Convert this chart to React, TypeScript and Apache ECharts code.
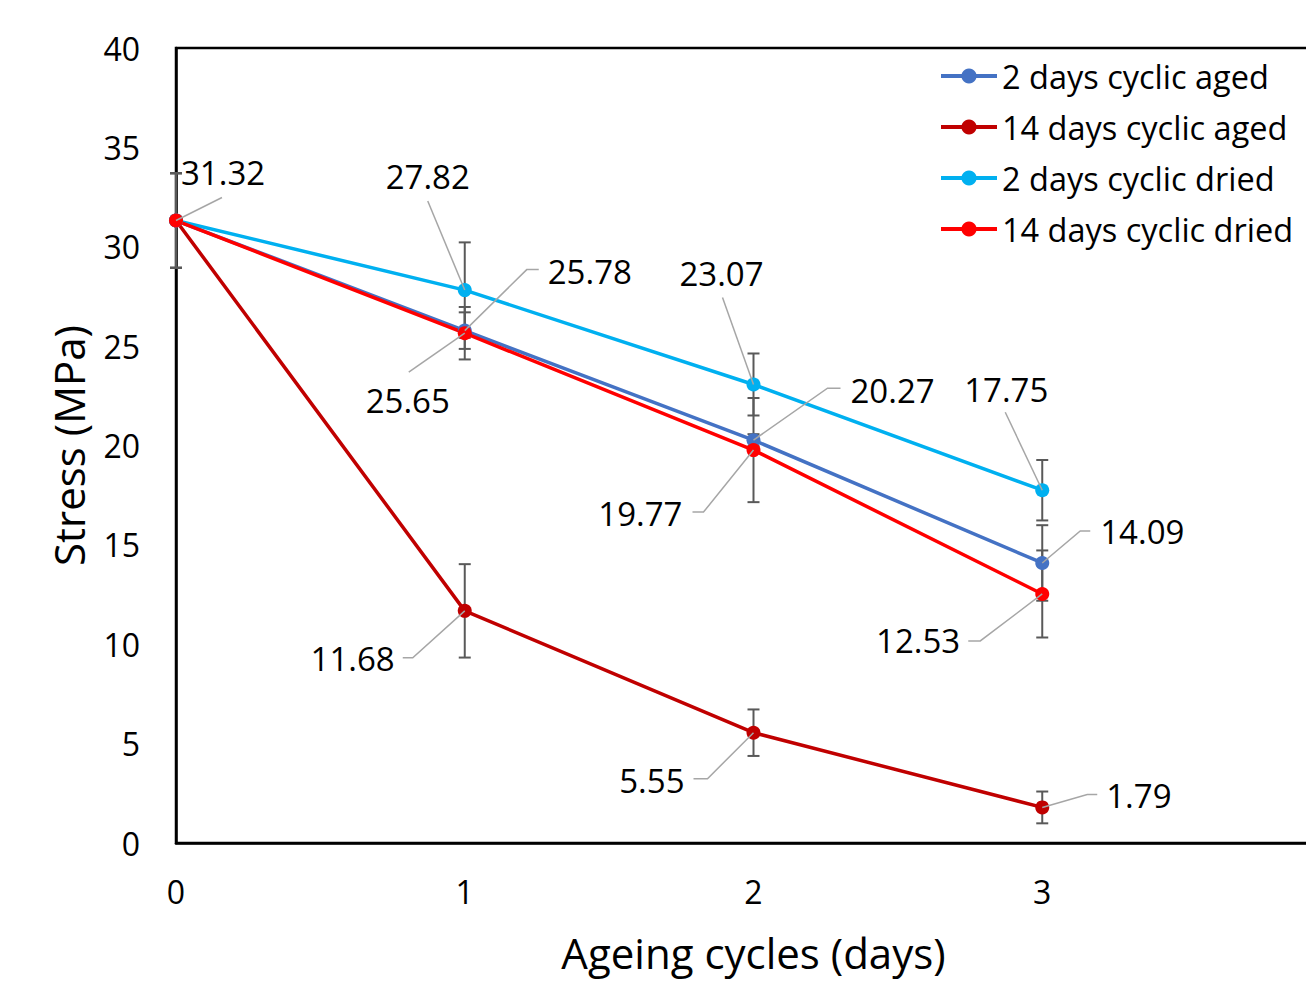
import React, { useEffect, useRef } from "react";
import * as echarts from "echarts";

const X_VALUES = [0, 1, 2, 3];
const SERIES_NAMES = ["2 days cyclic aged", "14 days cyclic aged", "2 days cyclic dried", "14 days cyclic dried"];
const AGED_2 = [31.32, 25.78, 20.27, 14.09];
const AGED_14 = [31.32, 11.68, 5.55, 1.79];
const DRIED_2 = [31.32, 27.82, 23.07, 17.75];
const DRIED_14 = [31.32, 25.65, 19.77, 12.53];
const ERR_AGED_2 = [2.38, 0.92, 0.3, 1.9];
const ERR_AGED_14 = [2.38, 2.35, 1.17, 0.8];
const ERR_DRIED_2 = [2.38, 2.4, 1.56, 1.52];
const ERR_DRIED_14 = [2.38, 1.32, 2.62, 2.19];
const Y_TICKS = [0, 5, 10, 15, 20, 25, 30, 35, 40];

const COLORS = ["#4472C4", "#C00000", "#00B0F0", "#FF0000"];
const FONT = "'Open Sans', 'Noto Sans', sans-serif";

type LabelLayout = { line: number[][]; text: number[]; align: string } | null;

// leader-line / label placement (pixel offsets from the data point)
const LABEL_LAYOUT: LabelLayout[][] = [
  [
    null,
    { line: [[62, -61], [74, -61]], text: [83, -59], align: "left" },
    { line: [[74, -52], [87, -52]], text: [97, -50], align: "left" },
    { line: [[38, -32], [48, -32]], text: [58, -31], align: "left" },
  ],
  [
    null,
    { line: [[-52, 47], [-62, 47]], text: [-70, 48], align: "right" },
    { line: [[-46, 46], [-60, 46]], text: [-69, 48], align: "right" },
    { line: [[45, -13], [55, -13]], text: [64, -12], align: "left" },
  ],
  [
    null,
    { line: [[-37, -89]], text: [-37, -114], align: "center" },
    { line: [[-31, -87]], text: [-32, -111], align: "center" },
    { line: [[-37, -78]], text: [-36, -101], align: "center" },
  ],
  [
    { line: [[46, -23]], text: [5, -48], align: "left" },
    { line: [[-56, 39]], text: [-57, 67], align: "center" },
    { line: [[-50, 62], [-61, 62]], text: [-71, 63], align: "right" },
    { line: [[-62, 47], [-74, 47]], text: [-82, 47], align: "right" },
  ],
];

const VALUES = [AGED_2, AGED_14, DRIED_2, DRIED_14];
const ERRORS = [ERR_AGED_2, ERR_AGED_14, ERR_DRIED_2, ERR_DRIED_14];

export default function App() {
  const ref = useRef<HTMLDivElement>(null);

  useEffect(() => {
    if (!ref.current) return;
    const chart = echarts.init(ref.current, null, { renderer: "svg" });

    const errorSeries = VALUES.map((vals, s) => ({
      type: "custom",
      name: "err" + s,
      z: 1,
      silent: true,
      data: X_VALUES.map((x, i) => [x, vals[i] - ERRORS[s][i], vals[i] + ERRORS[s][i]]),
      renderItem: (params: any, api: any) => {
        const lo = api.coord([api.value(0), api.value(1)]);
        const hi = api.coord([api.value(0), api.value(2)]);
        const cw = 6;
        const st = { stroke: "#595959", lineWidth: 2 };
        return {
          type: "group",
          children: [
            { type: "line", shape: { x1: lo[0], y1: lo[1], x2: hi[0], y2: hi[1] }, style: st },
            { type: "line", shape: { x1: lo[0] - cw, y1: lo[1], x2: lo[0] + cw, y2: lo[1] }, style: st },
            { type: "line", shape: { x1: hi[0] - cw, y1: hi[1], x2: hi[0] + cw, y2: hi[1] }, style: st },
          ],
        };
      },
    }));

    const lineSeries = VALUES.map((vals, s) => ({
      type: "line",
      name: SERIES_NAMES[s],
      z: 3,
      data: X_VALUES.map((x, i) => [x, vals[i]]),
      symbol: "circle",
      symbolSize: 14,
      lineStyle: { color: COLORS[s], width: 3.5 },
      itemStyle: { color: COLORS[s] },
    }));

    const labelSeries = VALUES.map((vals, s) => ({
      type: "custom",
      name: "lbl" + s,
      z: 5,
      silent: true,
      data: X_VALUES.map((x, i) => [x, vals[i], i]),
      renderItem: (params: any, api: any) => {
        const i = api.value(2);
        const lay = LABEL_LAYOUT[s][i];
        if (!lay) return null;
        const p = api.coord([api.value(0), api.value(1)]);
        const pts = [[p[0], p[1]], ...lay.line.map((o) => [p[0] + o[0], p[1] + o[1]])];
        return {
          type: "group",
          children: [
            { type: "polyline", shape: { points: pts }, style: { stroke: "#A6A6A6", lineWidth: 1.5, fill: null } },
            {
              type: "text",
              x: p[0] + lay.text[0],
              y: p[1] + lay.text[1],
              style: {
                text: vals[i].toFixed(2),
                align: lay.align,
                verticalAlign: "middle",
                fontSize: 33,
                fontFamily: FONT,
                fill: "#000",
              },
            },
          ],
        };
      },
    }));

    chart.setOption({
      animation: false,
      backgroundColor: "#fff",
      textStyle: { fontFamily: FONT },
      grid: {
        left: 176,
        top: 48,
        height: 795,
        width: 1155,
        outerBoundsMode: "none",
        show: true,
        borderColor: "#000",
        borderWidth: 2.5,
        containLabel: false,
      },
      legend: {
        data: SERIES_NAMES,
        orient: "vertical",
        left: 934,
        top: 50,
        itemWidth: 56,
        itemHeight: 19,
        itemGap: 9,
        lineStyle: { width: 4 },
        textStyle: { fontSize: 32.5, fontFamily: FONT, color: "#000", lineHeight: 42 },
      },
      xAxis: {
        type: "value",
        min: 0,
        max: 4,
        interval: 1,
        name: "Ageing cycles (days)",
        nameLocation: "middle",
        nameGap: 88,
        nameTextStyle: { fontSize: 42, color: "#000", fontFamily: FONT },
        axisLine: { show: true, lineStyle: { color: "#000", width: 2.5 } },
        axisTick: { show: false },
        splitLine: { show: false },
        axisLabel: {
          fontSize: 32,
          color: "#000",
          margin: 32,
          fontFamily: FONT,
          formatter: (v: number) => (X_VALUES.indexOf(v) >= 0 ? String(v) : ""),
        },
      },
      yAxis: {
        type: "value",
        min: Y_TICKS[0],
        max: Y_TICKS[Y_TICKS.length - 1],
        interval: 5,
        name: "Stress (MPa)",
        nameLocation: "middle",
        nameGap: 87,
        nameTextStyle: { fontSize: 42, color: "#000", fontFamily: FONT },
        axisLine: { show: true, lineStyle: { color: "#000", width: 2.5 } },
        axisTick: { show: false },
        splitLine: { show: false },
        axisLabel: { fontSize: 32, color: "#000", margin: 36, fontFamily: FONT },
      },
      series: [...errorSeries, ...lineSeries, ...labelSeries],
    });

    return () => chart.dispose();
  }, []);

  return (
    <div
      ref={ref}
      style={{ position: "fixed", left: 0, top: 0, width: 1306, height: 982, background: "#fff" }}
    />
  );
}
